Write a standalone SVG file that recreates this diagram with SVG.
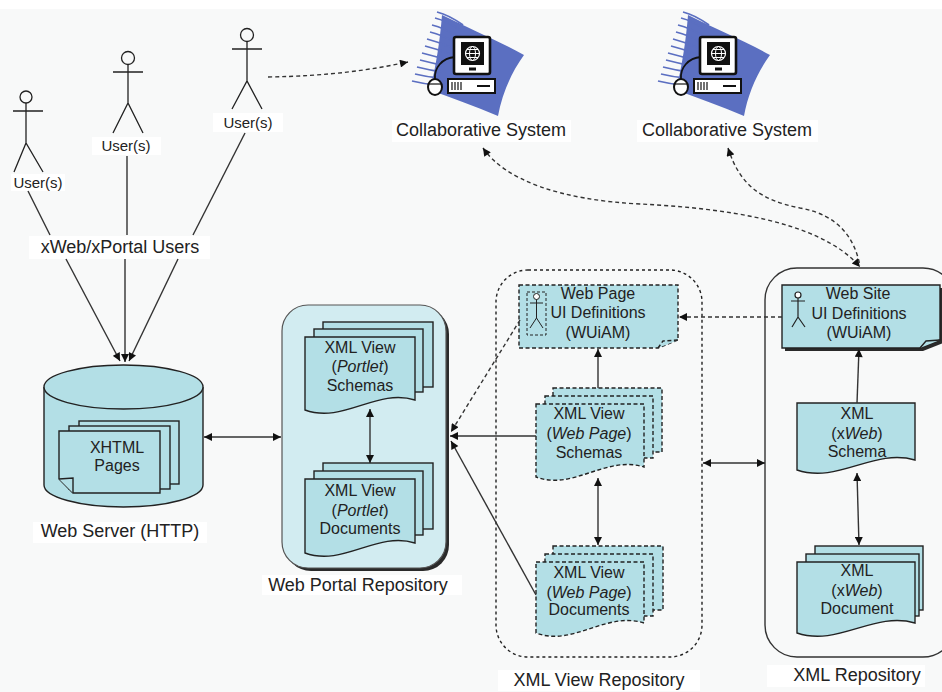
<svg xmlns="http://www.w3.org/2000/svg" width="942" height="692" viewBox="0 0 942 692">
  <defs>
    <style>
      text { font-family: "Liberation Sans", Arial, sans-serif; fill: #222; }
      .lbl { font-size: 18px; text-anchor: middle; }
      .usr { font-size: 15px; text-anchor: middle; }
      .nt { font-size: 16px; text-anchor: middle; }
      .lblbox { fill: #ffffff; stroke: none; }
      .node { fill: #b3dfe6; stroke: #222; stroke-width: 1.4; }
      .dnode { fill: #b3dfe6; stroke: #222; stroke-width: 1.4; stroke-dasharray: 4 2.5; }
      .line { fill: none; stroke: #333; stroke-width: 1.4; }
      .dash { fill: none; stroke: #333; stroke-width: 1.4; stroke-dasharray: 4 3; }
      .actor { fill: none; stroke: #222; stroke-width: 1.3; }
      .blue { fill: #5b6fc1; }
      .streak { fill: none; stroke: #5b6fc1; stroke-width: 1.8; }
    </style>
    <marker id="ah" viewBox="0 0 10 10" refX="10" refY="5" markerWidth="10" markerHeight="8" markerUnits="userSpaceOnUse" orient="auto-start-reverse">
      <path d="M0,0 L10,5 L0,10 Z" fill="#111"/>
    </marker>
    <!-- computer workstation with blue swoosh -->
    <g id="workstation">
      <path class="blue" d="M442,15 C470,29 499,41 524,55 C511,73 502,94 498,116 C474,106 452,98 430,90 C436,66 440,40 442,15 Z"/>
      <path class="streak" d="M437,12 Q449,15 463,25"/>
      <path class="streak" d="M435,18 Q447,21 460,30"/>
      <path class="streak" d="M432,25 Q444,28 457,36"/>
      <path class="streak" d="M430,32 Q442,35 455,42"/>
      <path class="streak" d="M427,39 Q439,42 452,48"/>
      <path class="streak" d="M425,46 Q437,49 450,54"/>
      <path class="streak" d="M422,53 Q434,56 447,60"/>
      <path class="streak" d="M420,60 Q432,63 445,66"/>
      <path class="streak" d="M417,67 Q429,70 442,72"/>
      <path class="streak" d="M415,74 Q427,77 440,78"/>
      <path class="streak" d="M412,81 Q424,84 437,85"/>
      <path d="M435,79 C434,68 442,58 455,57" fill="none" stroke="#111" stroke-width="1.8"/>
      <rect x="454" y="37" width="36" height="37" rx="2" fill="#fff" stroke="#111" stroke-width="2.6"/>
      <rect x="461" y="42" width="23" height="23" fill="#111"/>
      <circle cx="472.5" cy="53.5" r="7" fill="none" stroke="#fff" stroke-width="1.2"/>
      <ellipse cx="472.5" cy="53.5" rx="3" ry="7" fill="none" stroke="#fff" stroke-width="1"/>
      <line x1="465.5" y1="53.5" x2="479.5" y2="53.5" stroke="#fff" stroke-width="1"/>
      <line x1="467" y1="49.5" x2="478" y2="49.5" stroke="#fff" stroke-width="1"/>
      <line x1="467" y1="57.5" x2="478" y2="57.5" stroke="#fff" stroke-width="1"/>
      <rect x="469" y="67.5" width="7" height="3" fill="#111"/>
      <rect x="448" y="79" width="47" height="14" fill="#fff" stroke="#111" stroke-width="2"/>
      <path d="M452,82 v8 M455,82 v8 M458,82 v8 M461,82 v8" stroke="#111" stroke-width="1.2"/>
      <line x1="477" y1="86" x2="490" y2="86" stroke="#111" stroke-width="2"/>
      <ellipse cx="435" cy="87" rx="7" ry="8" fill="#fff" stroke="#111" stroke-width="2"/>
      <line x1="428.5" y1="84" x2="441.5" y2="84" stroke="#111" stroke-width="1.2"/>
    </g>
  </defs>

  <!-- canvas -->
  <rect x="0" y="0" width="942" height="692" fill="#f8f9f9"/>
  <rect x="0" y="0" width="942" height="9" fill="#ffffff"/>

  <!-- users -->
  <g id="user1">
    <circle class="actor" cx="26" cy="97" r="6" fill="#fff"/>
    <path class="actor" d="M26,103 V143 M13,111 H43 M14,172 L26,143 L43,172"/>
    <rect class="lblbox" x="11" y="174" width="54" height="17"/>
    <text class="usr" x="38" y="188">User(s)</text>
  </g>
  <g id="user2">
    <circle class="actor" cx="128" cy="58" r="6.5"/>
    <path class="actor" d="M128,64.5 V103 M113,72 H143 M113,133 L128,103 L143,133"/>
    <rect class="lblbox" x="92" y="137" width="69" height="18"/>
    <text class="usr" x="126" y="151">User(s)</text>
  </g>
  <g id="user3">
    <circle class="actor" cx="247" cy="35" r="6.5"/>
    <path class="actor" d="M247,41.5 V81 M232,49 H262 M232,109 L247,81 L262,109"/>
    <rect class="lblbox" x="213" y="113" width="70" height="19"/>
    <text class="usr" x="248" y="128">User(s)</text>
  </g>
  <g id="portal-users">
    <rect class="lblbox" x="29" y="236" width="181" height="23"/>
    <text class="lbl" x="120" y="253">xWeb/xPortal Users</text>
  </g>

  <!-- collaborative systems -->
  <g id="collab1">
    <use href="#workstation"/>
    <rect class="lblbox" x="392" y="120" width="179" height="22"/>
    <text class="lbl" x="481" y="136">Collaborative System</text>
  </g>
  <g id="collab2">
    <use href="#workstation" transform="translate(246,0)"/>
    <rect class="lblbox" x="637" y="120" width="181" height="22"/>
    <text class="lbl" x="727" y="136">Collaborative System</text>
  </g>

  <!-- web server -->
  <g id="web-server">
    <path class="node" d="M44,387 V485 A79.5,22 0 0 0 203,485 V387"/>
    <ellipse class="node" cx="123.5" cy="387" rx="79.5" ry="22"/>
    <rect class="node" x="79" y="421" width="100" height="63"/>
    <rect class="node" x="69" y="426" width="101" height="63"/>
    <path class="node" d="M59,431 H160 V493 H73 L59,479 Z"/>
    <path class="node" d="M59,479 L73,478 L73,493" fill="none"/>
    <text class="nt" x="117" y="453">XHTML</text>
    <text class="nt" x="117" y="471">Pages</text>
    <rect class="lblbox" x="33" y="522" width="174" height="21"/>
    <text class="lbl" x="120" y="537">Web Server (HTTP)</text>
  </g>

  <!-- web portal repository -->
  <g id="web-portal-repository">
    <rect x="285" y="308" width="164" height="263" rx="26" fill="#2a2a2a"/>
    <rect x="282" y="305" width="164" height="263" rx="26" fill="#d2ecf1" stroke="#555" stroke-width="1.2"/>
    <rect class="lblbox" x="262" y="575" width="200" height="20"/>
    <text class="lbl" x="358" y="591">Web Portal Repository</text>
  </g>
  <g id="portlet-schemas">
    <rect class="node" x="323" y="322" width="110" height="65"/>
    <rect class="node" x="314" y="329" width="109" height="63"/>
    <path class="node" d="M305,337 H415 V400 C376.5,388 343.5,424 305,410 Z"/>
    <text class="nt" x="360" y="353">XML View</text>
    <text class="nt" x="360" y="372">(<tspan font-style="italic">Portlet</tspan>)</text>
    <text class="nt" x="360" y="391">Schemas</text>
  </g>
  <g id="portlet-documents">
    <rect class="node" x="323" y="463" width="110" height="66"/>
    <rect class="node" x="314" y="471" width="109" height="64"/>
    <path class="node" d="M305,479 H415 V543 C376.5,531 343.5,567 305,553 Z"/>
    <text class="nt" x="360" y="496">XML View</text>
    <text class="nt" x="360" y="516">(<tspan font-style="italic">Portlet</tspan>)</text>
    <text class="nt" x="360" y="534">Documents</text>
  </g>

  <!-- XML view repository -->
  <g id="xml-view-repository">
    <rect x="496" y="270" width="206" height="387" rx="32" fill="none" stroke="#222" stroke-width="1.4" stroke-dasharray="3 3"/>
    <rect class="lblbox" x="498" y="670" width="202" height="21"/>
    <text class="lbl" x="599" y="686">XML View Repository</text>
  </g>
  <g id="web-page-ui">
    <path class="dnode" d="M519,285 H678 V340 L658,348 H519 Z"/>
    <path class="dnode" d="M658,348 L663,341 L678,340" fill="none"/>
    <rect x="527" y="292" width="19" height="43" fill="none" stroke="#222" stroke-width="1" stroke-dasharray="3 2"/>
    <circle cx="536.5" cy="296.5" r="3" fill="#fff" stroke="#222" stroke-width="1"/>
    <path d="M536.5,299.5 V318 M530,303 H543 M530,328 L536.5,318 L543,328" fill="none" stroke="#222" stroke-width="1"/>
    <text class="nt" x="598" y="299">Web Page</text>
    <text class="nt" x="598" y="318">UI Definitions</text>
    <text class="nt" x="598" y="338">(WUiAM)</text>
  </g>
  <g id="web-page-schemas">
    <rect class="dnode" x="553" y="388" width="109" height="64"/>
    <rect class="dnode" x="545" y="396" width="108" height="62"/>
    <path class="dnode" d="M536,404 H644 V467 C606,455 573,491 536,477 Z"/>
    <text class="nt" x="589" y="419">XML View</text>
    <text class="nt" x="589" y="439">(<tspan font-style="italic">Web Page</tspan>)</text>
    <text class="nt" x="589" y="458">Schemas</text>
  </g>
  <g id="web-page-documents">
    <rect class="dnode" x="553" y="546" width="110" height="64"/>
    <rect class="dnode" x="545" y="554" width="108" height="62"/>
    <path class="dnode" d="M536,562 H644 V623 C606,611 573,647 536,633 Z"/>
    <text class="nt" x="589" y="578">XML View</text>
    <text class="nt" x="589" y="598">(<tspan font-style="italic">Web Page</tspan>)</text>
    <text class="nt" x="589" y="615">Documents</text>
  </g>

  <!-- XML repository -->
  <g id="xml-repository">
    <rect x="765" y="268" width="190" height="389" rx="32" fill="none" stroke="#333" stroke-width="1.4"/>
    <rect class="lblbox" x="767" y="665" width="158" height="22"/>
    <text class="lbl" x="857" y="681">XML Repository</text>
  </g>
  <g id="web-site-ui">
    <path d="M785,288 H943 V343 L923,351 H785 Z" fill="#2a2a2a"/>
    <path class="node" d="M782,285 H940 V340 L920,348 H782 Z"/>
    <path class="node" d="M920,348 L926,341 L940,340" fill="#8fc9d2"/>
    <circle cx="798" cy="295" r="3" fill="#fff" stroke="#222" stroke-width="1.2"/>
    <path d="M798,298 V317 M791,301 H805 M792,327 L798,317 L805,327" fill="none" stroke="#222" stroke-width="1.2"/>
    <text class="nt" x="858" y="299">Web Site</text>
    <text class="nt" x="859" y="319">UI Definitions</text>
    <text class="nt" x="859" y="338">(WUiAM)</text>
  </g>
  <g id="xweb-schema">
    <path class="node" d="M797,403 H915 V460 C873.7,448 838.3,484 797,470 Z"/>
    <text class="nt" x="857" y="419">XML</text>
    <text class="nt" x="857" y="439">(x<tspan font-style="italic">Web</tspan>)</text>
    <text class="nt" x="857" y="457">Schema</text>
  </g>
  <g id="xweb-document">
    <rect class="node" x="815" y="546" width="108" height="64"/>
    <rect class="node" x="806" y="554" width="113" height="62"/>
    <path class="node" d="M797,562 H915 V623 C873.7,611 838.3,647 797,633 Z"/>
    <text class="nt" x="857" y="576">XML</text>
    <text class="nt" x="857" y="596">(x<tspan font-style="italic">Web</tspan>)</text>
    <text class="nt" x="857" y="614">Document</text>
  </g>

  <!-- connectors -->
  <g id="connectors">
    <path class="line" d="M28,191 L50,235"/>
    <path class="line" d="M127,156 L127,235"/>
    <path class="line" d="M245,133 L193,235"/>
    <path class="line" d="M66,259 L120,361" marker-end="url(#ah)"/>
    <path class="line" d="M125,259 L125,362" marker-end="url(#ah)"/>
    <path class="line" d="M178,259 L129,361" marker-end="url(#ah)"/>
    <path class="dash" d="M268,77 C330,76 370,70 408,62" marker-end="url(#ah)"/>
    <path class="dash" d="M483,148 C505,180 560,200 640,204 C720,208 820,220 860,267" marker-start="url(#ah)" marker-end="url(#ah)"/>
    <path class="dash" d="M728,148 C740,185 760,200 800,208 C840,215 855,240 860,266" marker-start="url(#ah)"/>
    <path class="line" d="M204,437 L281,437" marker-start="url(#ah)" marker-end="url(#ah)"/>
    <path class="line" d="M370,409 L370,463" marker-start="url(#ah)" marker-end="url(#ah)"/>
    <path class="line" d="M536,436 L450,436" marker-end="url(#ah)"/>
    <path class="line" d="M536,595 L451,441" marker-end="url(#ah)"/>
    <path class="dash" d="M520,320 L451,432" marker-end="url(#ah)"/>
    <path class="line" d="M598,388 L598,349" marker-end="url(#ah)"/>
    <path class="line" d="M598,478 L598,545" marker-start="url(#ah)" marker-end="url(#ah)"/>
    <path class="line" d="M703,463 L765,463" marker-start="url(#ah)" marker-end="url(#ah)"/>
    <path class="dash" d="M782,317 L679,317" marker-end="url(#ah)"/>
    <path class="line" d="M857,403 L859,349" marker-end="url(#ah)"/>
    <path class="line" d="M857,473 L859,545" marker-start="url(#ah)" marker-end="url(#ah)"/>
  </g>
</svg>
